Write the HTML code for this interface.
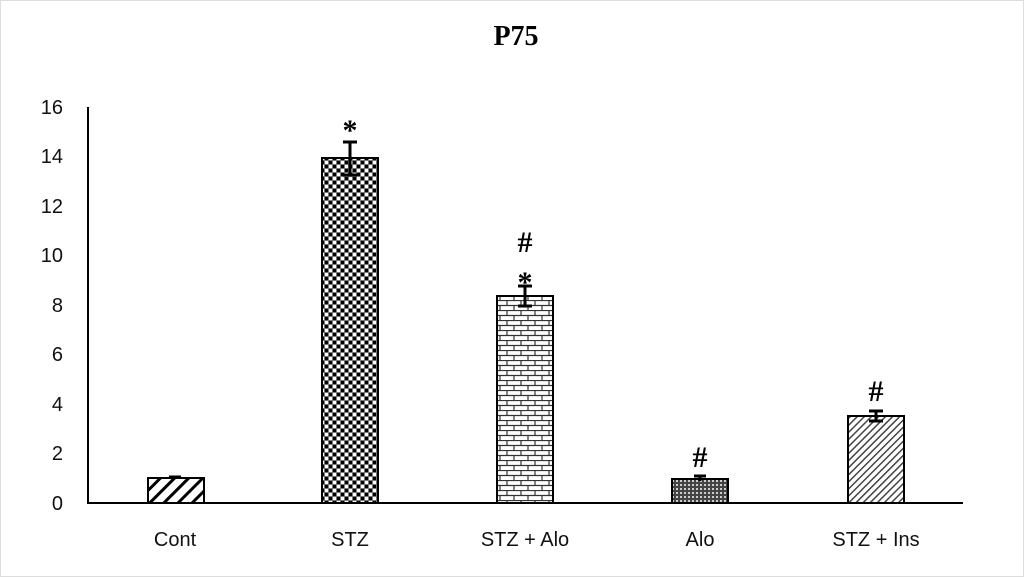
<!DOCTYPE html>
<html><head><style>body{margin:0;background:#fff}svg{display:block}</style></head><body>
<svg width="1024" height="577" xmlns="http://www.w3.org/2000/svg">
<defs>
<pattern id="diag" width="10" height="10" patternUnits="userSpaceOnUse" patternTransform="rotate(45)">
<rect width="10" height="10" fill="#fff"/><rect width="3" height="10" fill="#000"/></pattern>
<pattern id="check" width="8" height="8" patternUnits="userSpaceOnUse">
<rect width="8" height="8" fill="#777"/><rect x="1" y="1" width="3" height="3" fill="#000"/><rect x="5" y="1" width="3" height="3" fill="#fff"/><rect x="1" y="5" width="3" height="3" fill="#fff"/><rect x="5" y="5" width="3" height="3" fill="#000"/></pattern>
<pattern id="brick" width="14" height="10" patternUnits="userSpaceOnUse">
<rect width="14" height="10" fill="#fff"/><path d="M0 0.5H14M0 5.5H14M3 0V5M10 5V10" stroke="#333" stroke-width="1.2"/></pattern>
<pattern id="dense" width="4" height="4" patternUnits="userSpaceOnUse">
<rect width="4" height="4" fill="#444"/><rect width="2" height="2" fill="#ccc"/></pattern>
<pattern id="thin" width="5" height="5" patternUnits="userSpaceOnUse" patternTransform="rotate(45)">
<rect width="5" height="5" fill="#fff"/><rect width="1.5" height="5" fill="#444"/></pattern>
</defs>
<rect width="1024" height="577" fill="#fff"/>
<rect x="0.5" y="0.5" width="1023" height="576" fill="none" stroke="#ddd"/>
<text x="516" y="45" text-anchor="middle" font-family="Liberation Serif" font-weight="bold" font-size="28">P75</text>
<g font-family="Liberation Sans" font-size="20" fill="#111" text-anchor="end">
<text x="63" y="510">0</text><text x="63" y="460">2</text><text x="63" y="411">4</text><text x="63" y="361">6</text>
<text x="63" y="312">8</text><text x="63" y="262">10</text><text x="63" y="213">12</text><text x="63" y="163">14</text><text x="63" y="114">16</text>
</g>
<g stroke="#000" stroke-width="2">
<rect x="148" y="478" width="56" height="25" fill="url(#diag)"/>
<rect x="322" y="158" width="56" height="345" fill="url(#check)"/>
<rect x="497" y="296" width="56" height="207" fill="url(#brick)"/>
<rect x="672" y="479" width="56" height="24" fill="url(#dense)"/>
<rect x="848" y="416" width="56" height="87" fill="url(#thin)"/>
</g>
<g stroke="#000" stroke-width="3">
<path d="M175 477V478M169 477H181"/>
<path d="M350 142V175M343 142H357M343 175H357"/>
<path d="M525 286V306M518 286H532M518 306H532"/>
<path d="M700 476V481M694 476H706"/>
<path d="M876 411V421M869 411H883M869 421H883"/>
</g>
<path d="M88 107V503H963" fill="none" stroke="#000" stroke-width="2"/>
<g font-family="Liberation Serif" font-size="30" font-weight="bold" text-anchor="middle">
<text x="350" y="140">*</text><text x="525" y="292">*</text>
<text x="525" y="252">#</text><text x="700" y="467">#</text><text x="876" y="401">#</text>
</g>
<g font-family="Liberation Sans" font-size="20" fill="#111" text-anchor="middle">
<text x="175" y="546">Cont</text><text x="350" y="546">STZ</text><text x="525" y="546">STZ + Alo</text>
<text x="700" y="546">Alo</text><text x="876" y="546">STZ + Ins</text>
</g>
</svg>
</body></html>
